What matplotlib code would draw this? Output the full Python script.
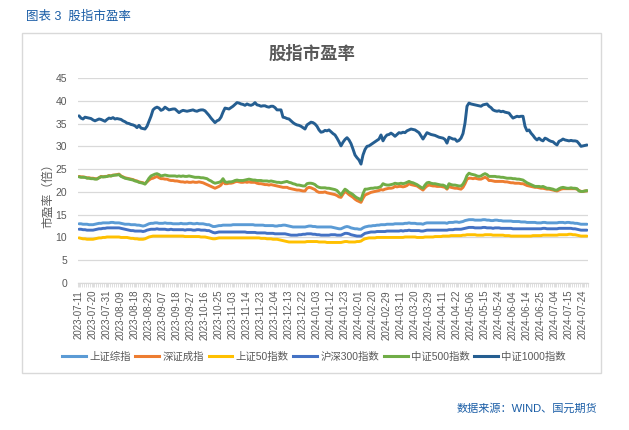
import matplotlib
matplotlib.use("Agg")
import matplotlib.pyplot as plt
from matplotlib.lines import Line2D
from matplotlib.patches import Rectangle

plt.rcParams['font.family'] = ['Liberation Sans', 'Noto Sans CJK SC', 'DejaVu Sans']

# ---------------- data ----------------
tick_labels = [
    "2023-07-11", "2023-07-20", "2023-07-31", "2023-08-09", "2023-08-18", "2023-08-29",
    "2023-09-07", "2023-09-18", "2023-09-27", "2023-10-16", "2023-10-25", "2023-11-03",
    "2023-11-14", "2023-11-23", "2023-12-04", "2023-12-13", "2023-12-22", "2024-01-03",
    "2024-01-12", "2024-01-23", "2024-02-01", "2024-02-20", "2024-02-29", "2024-03-11",
    "2024-03-20", "2024-03-29", "2024-04-11", "2024-04-22", "2024-05-06", "2024-05-15",
    "2024-05-24", "2024-06-04", "2024-06-14", "2024-06-25", "2024-07-04", "2024-07-15",
    "2024-07-24",
]
tick_step = 7

series_names = ["上证综指", "深证成指", "上证50指数", "沪深300指数", "中证500指数", "中证1000指数"]

sse_comp = [
    13.0, 13.0, 12.9, 12.9, 12.9, 12.8, 12.8, 12.8, 12.9, 13.0,
    13.1, 13.1, 13.2, 13.2, 13.2, 13.2, 13.3, 13.3, 13.2, 13.2,
    13.2, 13.1, 13.0, 12.9, 12.9, 12.9, 12.8, 12.8, 12.8, 12.7,
    12.7, 12.6, 12.5, 12.6, 12.8, 13.0, 13.1, 13.1, 13.2, 13.2,
    13.1, 13.1, 13.1, 13.2, 13.1, 13.1, 13.1, 13.0, 13.0, 13.0,
    13.0, 13.1, 13.0, 13.0, 13.0, 13.1, 13.1, 13.0, 13.0, 13.1,
    13.0, 13.0, 13.0, 12.9, 12.8, 12.8, 12.6, 12.4, 12.4, 12.5,
    12.6, 12.6, 12.7, 12.7, 12.7, 12.7, 12.7, 12.8, 12.8, 12.8,
    12.8, 12.8, 12.8, 12.8, 12.8, 12.8, 12.8, 12.8, 12.7, 12.7,
    12.7, 12.7, 12.7, 12.6, 12.6, 12.6, 12.6, 12.6, 12.5, 12.5,
    12.6, 12.6, 12.7, 12.7, 12.6, 12.5, 12.4, 12.3, 12.3, 12.3,
    12.3, 12.3, 12.3, 12.3, 12.4, 12.5, 12.5, 12.4, 12.4, 12.3,
    12.3, 12.3, 12.3, 12.3, 12.3, 12.3, 12.3, 12.2, 12.1, 12.0,
    11.9, 11.9, 12.1, 12.3, 12.4, 12.3, 12.1, 12.0, 11.9, 11.9,
    11.8, 11.8, 12.1, 12.3, 12.4, 12.5, 12.5, 12.6, 12.6, 12.7,
    12.7, 12.8, 12.8, 12.8, 12.9, 12.9, 12.9, 12.9, 13.0, 13.0,
    13.0, 13.0, 13.0, 13.1, 13.1, 13.2, 13.1, 13.1, 13.1, 13.0,
    13.0, 13.0, 12.9, 13.1, 13.2, 13.2, 13.2, 13.2, 13.2, 13.2,
    13.2, 13.2, 13.2, 13.2, 13.1, 13.3, 13.3, 13.3, 13.4, 13.4,
    13.3, 13.4, 13.5, 13.7, 13.8, 13.9, 13.9, 13.9, 13.8, 13.8,
    13.8, 13.8, 13.9, 13.9, 13.8, 13.8, 13.7, 13.7, 13.8, 13.8,
    13.7, 13.7, 13.6, 13.6, 13.6, 13.6, 13.6, 13.5, 13.5, 13.5,
    13.5, 13.4, 13.4, 13.4, 13.3, 13.3, 13.3, 13.3, 13.3, 13.2,
    13.2, 13.2, 13.3, 13.3, 13.2, 13.2, 13.2, 13.2, 13.2, 13.2,
    13.3, 13.3, 13.3, 13.2, 13.3, 13.3, 13.2, 13.2, 13.1, 13.1,
    13.0, 12.9, 12.9, 12.9, 12.9,
]

szse_comp = [
    23.4, 23.3, 23.3, 23.2, 23.1, 23.1, 23.0, 23.0, 22.9, 22.9,
    23.1, 23.4, 23.3, 23.4, 23.4, 23.6, 23.5, 23.7, 23.7, 23.8,
    23.9, 23.5, 23.3, 23.1, 23.0, 22.9, 22.8, 22.7, 22.5, 22.4,
    22.2, 22.1, 22.0, 21.8, 22.2, 22.6, 22.9, 23.0, 23.2, 23.4,
    23.1, 22.9, 22.9, 22.8, 22.8, 22.6, 22.5, 22.5, 22.4, 22.4,
    22.3, 22.2, 22.2, 22.1, 22.2, 22.1, 22.1, 22.2, 22.1, 22.1,
    22.2, 22.1, 22.0, 21.8, 21.6, 21.4, 21.2, 21.0, 20.8, 21.0,
    21.2, 21.5, 22.3, 21.8, 21.8, 21.9, 21.9, 22.0, 22.2, 22.3,
    22.2, 22.1, 22.1, 22.2, 22.1, 22.2, 22.1, 22.1, 22.1, 21.9,
    21.8, 21.8, 21.7, 21.6, 21.6, 21.5, 21.6, 21.5, 21.4, 21.3,
    21.2, 21.1, 21.0, 21.0, 21.0, 20.8, 20.7, 20.6, 20.5, 20.4,
    20.4, 20.3, 20.2, 20.2, 20.8, 21.0, 20.9, 20.7, 20.5, 20.1,
    19.9, 19.9, 19.9, 20.0, 19.8, 19.7, 19.6, 19.5, 19.4, 19.2,
    18.9, 18.8, 19.5, 20.1, 19.8, 19.4, 19.1, 18.8, 18.4, 18.1,
    17.9, 17.7, 18.6, 19.3, 19.5, 19.7, 19.9, 20.0, 20.1, 20.2,
    20.3, 20.5, 20.4, 20.6, 20.7, 20.8, 20.8, 20.9, 21.2, 21.1,
    21.2, 21.2, 21.1, 21.2, 21.4, 21.8, 21.6, 21.5, 21.4, 21.3,
    21.0, 20.7, 20.4, 20.9, 21.3, 21.5, 21.4, 21.3, 21.3, 21.2,
    21.2, 21.2, 21.1, 21.0, 20.6, 21.2, 21.0, 20.9, 20.8, 20.8,
    20.7, 20.6, 21.0, 21.8, 22.8, 23.0, 23.0, 22.9, 23.0, 22.9,
    22.8, 22.8, 23.0, 23.2, 23.0, 22.5, 22.5, 22.4, 22.3, 22.3,
    22.3, 22.3, 22.3, 22.2, 22.2, 22.1, 22.0, 22.0, 21.9, 21.9,
    21.9, 21.8, 21.8, 21.6, 21.4, 21.3, 21.2, 21.1, 21.0, 21.0,
    20.9, 20.8, 20.8, 20.7, 20.6, 20.6, 20.5, 20.4, 20.3, 20.2,
    20.4, 20.6, 20.7, 20.7, 20.7, 20.7, 20.7, 20.7, 20.7, 20.6,
    20.3, 20.1, 20.1, 20.2, 20.2,
]

sse50 = [
    9.9, 9.8, 9.7, 9.7, 9.6, 9.6, 9.6, 9.6, 9.7, 9.8,
    9.9, 9.9, 10.0, 10.0, 10.1, 10.1, 10.1, 10.1, 10.1, 10.1,
    10.1, 10.0, 10.0, 10.0, 10.0, 9.9, 9.8, 9.8, 9.7, 9.7,
    9.6, 9.6, 9.6, 9.7, 9.9, 10.1, 10.2, 10.3, 10.3, 10.3,
    10.3, 10.3, 10.3, 10.3, 10.3, 10.3, 10.3, 10.3, 10.3, 10.3,
    10.3, 10.3, 10.3, 10.2, 10.2, 10.2, 10.2, 10.2, 10.2, 10.2,
    10.2, 10.1, 10.1, 10.1, 10.0, 9.9, 9.8, 9.7, 9.7, 9.8,
    9.9, 9.9, 9.9, 9.9, 9.9, 9.9, 9.9, 9.9, 9.9, 9.9,
    9.9, 9.9, 9.9, 9.9, 9.9, 9.9, 9.9, 9.9, 9.9, 9.9,
    9.9, 9.8, 9.8, 9.8, 9.7, 9.7, 9.7, 9.6, 9.6, 9.6,
    9.5, 9.4, 9.3, 9.2, 9.1, 9.0, 9.0, 9.0, 9.0, 9.0,
    9.0, 9.0, 9.0, 9.0, 9.1, 9.1, 9.1, 9.1, 9.1, 9.1,
    9.0, 9.0, 9.0, 9.0, 8.9, 8.9, 8.9, 8.9, 8.9, 8.9,
    8.9, 8.9, 9.0, 9.1, 9.1, 9.0, 9.0, 9.0, 9.0, 9.1,
    9.1, 9.2, 9.5, 9.7, 9.8, 9.9, 9.9, 9.9, 9.9, 10.0,
    10.0, 10.0, 10.0, 10.0, 10.0, 10.0, 10.0, 10.0, 10.0, 10.0,
    10.0, 10.0, 10.0, 10.1, 10.1, 10.1, 10.1, 10.1, 10.1, 10.0,
    10.0, 10.0, 10.0, 10.1, 10.1, 10.1, 10.1, 10.1, 10.2, 10.2,
    10.2, 10.2, 10.3, 10.3, 10.3, 10.3, 10.4, 10.4, 10.4, 10.4,
    10.4, 10.4, 10.5, 10.5, 10.6, 10.6, 10.6, 10.6, 10.6, 10.5,
    10.5, 10.5, 10.5, 10.6, 10.6, 10.6, 10.6, 10.5, 10.5, 10.5,
    10.5, 10.5, 10.5, 10.4, 10.4, 10.4, 10.3, 10.3, 10.3, 10.3,
    10.3, 10.3, 10.3, 10.3, 10.3, 10.3, 10.3, 10.4, 10.4, 10.4,
    10.4, 10.4, 10.5, 10.5, 10.5, 10.5, 10.5, 10.5, 10.5, 10.5,
    10.6, 10.6, 10.6, 10.6, 10.6, 10.7, 10.7, 10.6, 10.6, 10.5,
    10.4, 10.3, 10.3, 10.3, 10.3,
]

csi300 = [
    11.8, 11.8, 11.7, 11.7, 11.6, 11.6, 11.6, 11.6, 11.7, 11.8,
    11.9, 11.9, 12.0, 12.0, 12.1, 12.1, 12.1, 12.1, 12.1, 12.1,
    12.1, 12.0, 11.9, 11.8, 11.7, 11.6, 11.5, 11.5, 11.4, 11.4,
    11.4, 11.4, 11.3, 11.4, 11.6, 11.7, 11.8, 11.8, 11.8, 11.9,
    11.8, 11.8, 11.8, 11.8, 11.7, 11.7, 11.8, 11.7, 11.7, 11.7,
    11.7, 11.7, 11.7, 11.6, 11.7, 11.7, 11.7, 11.6, 11.6, 11.7,
    11.7, 11.6, 11.6, 11.6, 11.5, 11.5, 11.3, 11.1, 11.0, 11.1,
    11.2, 11.2, 11.2, 11.2, 11.2, 11.2, 11.2, 11.2, 11.2, 11.2,
    11.2, 11.2, 11.2, 11.2, 11.1, 11.1, 11.1, 11.1, 11.1, 11.0,
    11.0, 11.0, 11.0, 11.0, 10.9, 10.9, 10.9, 10.9, 10.8, 10.8,
    10.8, 10.8, 10.8, 10.8, 10.7, 10.6, 10.5, 10.5, 10.5, 10.5,
    10.6, 10.6, 10.7, 10.7, 10.8, 10.8, 10.8, 10.7, 10.7, 10.6,
    10.6, 10.5, 10.5, 10.5, 10.5, 10.5, 10.6, 10.6, 10.6, 10.5,
    10.5, 10.5, 10.7, 10.9, 10.9, 10.8, 10.6, 10.5, 10.4, 10.3,
    10.3, 10.3, 10.6, 10.9, 11.0, 11.1, 11.2, 11.2, 11.2, 11.3,
    11.3, 11.3, 11.3, 11.3, 11.4, 11.4, 11.4, 11.4, 11.4, 11.4,
    11.4, 11.5, 11.4, 11.5, 11.5, 11.6, 11.5, 11.5, 11.5, 11.5,
    11.5, 11.4, 11.4, 11.5, 11.6, 11.6, 11.6, 11.6, 11.6, 11.6,
    11.6, 11.6, 11.6, 11.6, 11.6, 11.7, 11.7, 11.7, 11.8, 11.8,
    11.8, 11.8, 11.9, 12.0, 12.1, 12.2, 12.2, 12.2, 12.1, 12.1,
    12.1, 12.1, 12.2, 12.2, 12.1, 12.1, 12.1, 12.0, 12.1, 12.1,
    12.1, 12.0, 12.0, 12.0, 12.0, 12.0, 12.0, 11.9, 11.9, 11.9,
    11.9, 11.9, 11.9, 11.9, 11.9, 11.9, 11.9, 11.9, 11.9, 11.9,
    11.9, 11.9, 12.0, 12.0, 11.9, 11.9, 11.9, 11.9, 11.9, 11.9,
    12.0, 12.0, 12.0, 12.0, 12.0, 12.0, 12.0, 11.9, 11.9, 11.8,
    11.7, 11.6, 11.6, 11.6, 11.6,
]

csi500 = [
    23.3, 23.2, 23.2, 23.2, 23.0, 23.0, 22.9, 22.9, 22.8, 22.8,
    23.1, 23.3, 23.3, 23.3, 23.4, 23.5, 23.5, 23.6, 23.7, 23.7,
    23.8, 23.4, 23.2, 23.0, 22.9, 22.8, 22.7, 22.6, 22.4, 22.3,
    22.1, 22.0, 21.9, 21.7, 22.3, 23.0, 23.5, 23.7, 23.9, 24.0,
    23.8, 23.5, 23.6, 23.7, 23.6, 23.5, 23.5, 23.5, 23.5, 23.4,
    23.5, 23.4, 23.5, 23.4, 23.4, 23.5, 23.4, 23.3, 23.2, 23.2,
    23.2, 23.1, 23.1, 23.0, 22.9, 22.6, 22.4, 22.1, 21.9, 22.0,
    22.1, 22.3, 22.9, 22.2, 22.1, 22.2, 22.2, 22.3, 22.5, 22.6,
    22.5, 22.5, 22.5, 22.6, 22.7, 22.8, 22.7, 22.6, 22.6, 22.5,
    22.5, 22.5, 22.4, 22.4, 22.4, 22.3, 22.4, 22.3, 22.2, 22.1,
    22.1, 22.0, 22.1, 22.2, 22.3, 22.1, 22.0, 21.8, 21.7, 21.5,
    21.5, 21.4, 21.3, 21.3, 21.8, 21.9, 21.9, 21.8, 21.6, 21.2,
    21.0, 20.9, 20.9, 20.9, 20.8, 20.8, 20.7, 20.6, 20.5, 20.3,
    19.8, 19.3, 20.0, 20.6, 20.3, 19.9, 19.7, 19.4, 19.0, 18.7,
    18.5, 18.2, 19.6, 20.6, 20.6, 20.7, 20.8, 20.8, 20.9, 20.9,
    21.0, 21.2, 21.8, 21.6, 21.5, 21.5, 21.6, 21.7, 21.9, 21.8,
    21.8, 21.9, 21.8, 21.9, 22.1, 22.3, 22.1, 22.0, 21.8, 21.6,
    21.3, 21.0, 20.8, 21.5, 22.0, 22.1, 21.9, 21.8, 21.8, 21.7,
    21.6, 21.5, 21.5, 21.3, 20.8, 21.8, 21.6, 21.5, 21.5, 21.4,
    21.3, 21.3, 21.7, 22.5, 23.6, 24.1, 23.9, 23.8, 23.7, 23.5,
    23.4, 23.5, 23.8, 24.0, 23.8, 23.4, 23.4, 23.4, 23.4, 23.3,
    23.3, 23.2, 23.2, 23.1, 23.0, 23.0, 23.0, 22.9, 22.9, 22.8,
    22.8, 22.7, 22.6, 22.3, 22.0, 21.8, 21.6, 21.4, 21.2, 21.2,
    21.2, 21.1, 21.2, 21.0, 20.8, 20.8, 20.7, 20.6, 20.4, 20.4,
    20.7, 20.9, 21.0, 20.9, 20.8, 20.8, 20.9, 20.8, 20.8, 20.7,
    20.2, 20.1, 20.1, 20.2, 20.3,
]

csi1000 = [
    36.7, 36.2, 36.0, 36.4, 36.3, 36.2, 36.1, 35.8, 35.6, 35.8,
    36.0, 35.9, 35.7, 35.5, 35.9, 36.2, 36.1, 36.3, 36.0, 36.1,
    36.0, 35.9, 35.6, 35.4, 35.1, 35.0, 34.8, 34.7, 34.5, 34.1,
    34.6, 34.0, 33.9, 33.8, 34.4, 35.5, 36.6, 38.0, 38.4, 38.6,
    38.4, 37.9, 38.1, 38.6, 38.3, 38.0, 38.1, 38.2, 38.2, 37.8,
    37.4, 37.7, 37.9, 37.8, 37.7, 37.8, 37.9, 38.0, 37.8, 37.7,
    37.9, 38.0, 38.0, 37.8, 37.3, 36.8, 36.2, 35.7, 35.2, 35.6,
    35.8, 36.4, 37.5, 38.4, 38.3, 38.2, 38.5, 38.8, 39.2, 39.6,
    39.5, 39.3, 39.2, 39.0, 39.3, 39.1, 39.0, 39.2, 39.6, 39.1,
    39.0, 38.8, 38.9, 38.9, 38.7, 38.6, 38.8, 38.8, 38.5, 38.0,
    38.0, 38.0, 36.4, 36.3, 36.1, 36.0, 35.6, 35.2, 34.9, 34.7,
    34.6, 34.4, 34.1, 33.8, 34.7, 35.0, 35.3, 35.2, 34.9, 34.4,
    33.6, 33.1, 33.2, 33.5, 33.4, 33.6, 33.2, 32.8, 32.5, 31.8,
    31.0, 30.1, 30.9, 31.5, 31.9, 31.4, 30.6, 29.4, 28.1, 27.5,
    27.0, 26.1, 28.1, 29.3, 30.0, 30.1, 30.4, 30.7, 31.0, 31.3,
    31.6, 32.5, 31.2, 32.0, 32.5, 32.6, 32.9, 32.6, 32.2, 32.6,
    33.0, 32.9, 33.1, 33.0, 33.4, 33.6, 33.8, 33.7, 33.6, 33.3,
    33.0, 32.3, 31.6, 32.3, 33.0, 32.8, 32.6, 32.5, 32.4, 32.2,
    32.0, 31.9, 31.8, 31.5, 30.7, 32.0, 31.8, 31.6, 31.6, 31.1,
    31.3, 31.8, 32.8, 35.1, 38.8, 39.5, 39.3, 39.2, 39.1, 39.0,
    38.9, 38.8, 39.1, 39.2, 39.3, 38.8, 38.5, 38.0, 37.8, 37.7,
    37.8, 37.6, 37.7, 37.5, 37.4, 37.3, 36.7, 36.2, 36.4, 36.6,
    36.5, 36.6, 36.6, 34.4, 33.4, 33.6, 32.9, 32.4, 31.8, 31.4,
    31.8, 31.4, 31.2, 31.8, 31.6, 31.3, 31.1, 31.0, 30.6, 30.3,
    31.1, 31.3, 31.6, 31.4, 31.3, 31.2, 31.3, 31.2, 31.2, 31.1,
    30.6, 30.0, 30.1, 30.2, 30.3,
]

y_ticks = [0, 5, 10, 15, 20, 25, 30, 35, 40, 45]

# ---------------- styles ----------------
colors = ["#5B9BD5", "#ED7D31", "#FFC000", "#4472C4", "#70AD47", "#255E91"]
all_series = [sse_comp, szse_comp, sse50, csi300, csi500, csi1000]
grey_text = "#595959"
grid_col = "#D9D9D9"
blue_text = "#1A5DA6"

W, H = 629, 430
fig = plt.figure(figsize=(W / 100, H / 100), dpi=100)

# outer chart frame
fig.patches.append(Rectangle((22 / W, 1 - 373 / H), (601 - 22) / W, (373 - 33) / H,
                             transform=fig.transFigure, fill=False,
                             edgecolor=grid_col, linewidth=1.0))

ax = fig.add_axes([78 / W, 1 - 283 / H, 510 / W, 205 / H])

n = len(csi1000)
xs = list(range(n))
for vals, c, name in zip(all_series, colors, series_names):
    ax.plot(xs, vals, color=c, linewidth=2.1, label=name, solid_capstyle='round',
            solid_joinstyle='round')

ax.set_xlim(-0.5, n - 0.5)
ax.set_ylim(0, 45)
ax.set_yticks(y_ticks)
ax.set_yticklabels([str(v) for v in y_ticks])
ax.yaxis.grid(True, color=grid_col, linewidth=0.9)
ax.set_axisbelow(True)

major_pos = [i * tick_step for i in range(len(tick_labels))]
ax.set_xticks(major_pos)
ax.set_xticklabels(tick_labels, rotation=90, fontsize=7, color=grey_text)
ax.set_xticks([i - 0.5 for i in range(n + 1)], minor=True)
ax.tick_params(axis='x', which='both', length=3, width=0.6, color=grid_col, pad=2)
ax.tick_params(axis='y', length=0, pad=8, labelsize=7.5, labelcolor=grey_text)

for s in ["top", "right", "left"]:
    ax.spines[s].set_visible(False)
ax.spines["bottom"].set_color(grid_col)
ax.spines["bottom"].set_linewidth(0.9)

# texts
fig.text(26 / W, 1 - 17 / H, "图表 3  股指市盈率", fontsize=9, color=blue_text,
         ha="left", va="center")
fig.text(312 / W, 1 - 53 / H, "股指市盈率", fontsize=12.5, color=grey_text,
         fontweight="bold", ha="center", va="center")
fig.text(48 / W, 1 - 193 / H, "市盈率（倍）", fontsize=8.5, color=grey_text,
         rotation=90, ha="center", va="center")
fig.text(597 / W, 1 - 409 / H, "数据来源：WIND、国元期货", fontsize=8, color=blue_text,
         ha="right", va="center")

handles = [Line2D([0], [0], color=c, linewidth=2.2) for c in colors]
leg = fig.legend(handles, series_names, loc="center", bbox_to_anchor=(314 / W, 1 - 357 / H),
                 ncol=6, frameon=False, fontsize=7.5, handlelength=2.3,
                 handletextpad=0.3, columnspacing=0.45, borderaxespad=0, borderpad=0)
for t in leg.get_texts():
    t.set_color(grey_text)

fig.savefig("out.png", dpi=100)
